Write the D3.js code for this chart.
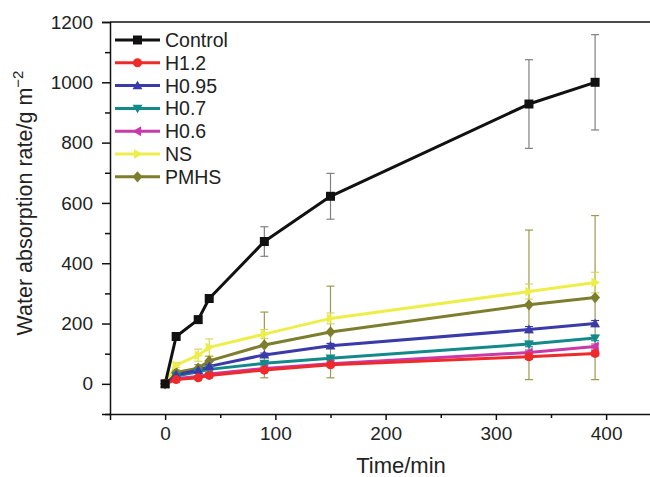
<!DOCTYPE html>
<html><head><meta charset="utf-8">
<script src="https://cdn.jsdelivr.net/npm/d3@7"></script>
<style>body{margin:0;background:#fff}svg{display:block;font-family:Arial,"Liberation Sans",sans-serif}</style>
</head><body><svg id="c" width="650" height="477"></svg>
<script>
const times = [0, 10, 30, 40, 90, 150, 330, 390];
const seriesNames = ["Control", "H1.2", "H0.95", "H0.7", "H0.6", "NS", "PMHS"];
const controlVals = [0, 157, 213, 283, 472, 622, 928, 1000];
const controlErr  = [0, 0, 0, 0, 49, 76, 147, 158];
const h12Vals  = [0, 14, 20, 28, 46, 63, 90, 101];
const h12Err   = [0, 3, 3, 4, 5, 6, 8, 8];
const h095Vals = [0, 30, 45, 58, 96, 126, 180, 200];
const h095Err  = [0, 4, 4, 5, 6, 8, 10, 10];
const h07Vals  = [0, 26, 40, 48, 68, 85, 132, 152];
const h07Err   = [0, 3, 4, 5, 6, 7, 9, 9];
const h06Vals  = [0, 18, 24, 33, 51, 67, 104, 124];
const h06Err   = [0, 3, 3, 4, 5, 6, 8, 8];
const nsVals   = [0, 62, 95, 121, 165, 217, 306, 336];
const nsErr    = [0, 8, 20, 28, 15, 18, 25, 34];
const pmhsVals = [0, 38, 52, 76, 129, 172, 262, 286];
const pmhsErr  = [0, 8, 12, 15, 109, 152, 248, 272];
const colors = ["#111111", "#ee2a2a", "#3a3aa8", "#138a8a", "#c83aa8", "#eeee4a", "#7d7d2e"];
const errColors = ["#808080", "#ee2a2a", "#3a3aa8", "#138a8a", "#c83aa8", "#d8d860", "#9a9a50"];
const symbols = ["square", "circle", "triUp", "triDown", "triLeft", "triRight", "diamond"];
const xTicks = [0, 100, 200, 300, 400];
const yTicks = [0, 200, 400, 600, 800, 1000, 1200];

const allVals = [controlVals, h12Vals, h095Vals, h07Vals, h06Vals, nsVals, pmhsVals];
const allErr = [controlErr, h12Err, h095Err, h07Err, h06Err, nsErr, pmhsErr];

const svg = d3.select("#c");
const x = d3.scaleLinear().domain([-50, 450]).range([110, 661.25]);
const y = d3.scaleLinear().domain([-100, 1200]).range([414, 22]);

function symPath(type, s) {
  const h = s / 2;
  switch (type) {
    case "square": return `M${-h},${-h}h${s}v${s}h${-s}Z`;
    case "circle": return d3.symbol(d3.symbolCircle, Math.PI * h * h)();
    case "triUp": return `M0,${-h * 1.1}L${h * 1.1},${h * 0.8}L${-h * 1.1},${h * 0.8}Z`;
    case "triDown": return `M0,${h * 1.1}L${h * 1.1},${-h * 0.8}L${-h * 1.1},${-h * 0.8}Z`;
    case "triLeft": return `M${-h * 1.1},0L${h * 0.8},${-h * 1.1}L${h * 0.8},${h * 1.1}Z`;
    case "triRight": return `M${h * 1.1},0L${-h * 0.8},${-h * 1.1}L${-h * 0.8},${h * 1.1}Z`;
    case "diamond": return `M0,${-h * 1.25}L${h * 1.1},0L0,${h * 1.25}L${-h * 1.1},0Z`;
  }
}

// frame
svg.append("line").attr("x1", 110).attr("x2", 650).attr("y1", 22).attr("y2", 22).attr("stroke", "#111").attr("stroke-width", 1.5);

// axes
const xAxis = d3.axisBottom(x).tickValues(xTicks).tickSize(6).tickPadding(7).tickFormat(d3.format("d"));
const gx = svg.append("g").attr("transform", "translate(0,414)").call(xAxis);
gx.select(".domain").attr("stroke", "#111").attr("stroke-width", 1.5);
gx.selectAll(".tick line").attr("stroke", "#111").attr("stroke-width", 1.5);
gx.selectAll("text").attr("font-size", 19).attr("fill", "#222").attr("font-family", "Arial, Liberation Sans, sans-serif");
const gxm = svg.append("g").attr("transform", "translate(0,414)").call(d3.axisBottom(x).tickValues([50, 150, 250, 350, 450]).tickSize(4).tickFormat(""));
gxm.select(".domain").remove();
gxm.selectAll(".tick line").attr("stroke", "#111").attr("stroke-width", 1.5);

const yAxis = d3.axisLeft(y).tickValues(yTicks).tickSize(8).tickPadding(9).tickFormat(d3.format("d"));
const gy = svg.append("g").attr("transform", "translate(110,0)").call(yAxis);
gy.select(".domain").attr("stroke", "#111").attr("stroke-width", 1.5);
gy.selectAll(".tick line").attr("stroke", "#111").attr("stroke-width", 1.5);
gy.selectAll("text").attr("font-size", 19).attr("fill", "#222").attr("font-family", "Arial, Liberation Sans, sans-serif");
const gym = svg.append("g").attr("transform", "translate(110,0)").call(d3.axisLeft(y).tickValues([-100, 100, 300, 500, 700, 900, 1100]).tickSize(5).tickFormat(""));
gym.select(".domain").remove();
gym.selectAll(".tick line").attr("stroke", "#111").attr("stroke-width", 1.5);

// axis titles
svg.append("text").attr("x", 401).attr("y", 473).attr("text-anchor", "middle").attr("font-size", 22).attr("fill", "#222").text("Time/min");
const yt = svg.append("text").attr("transform", "translate(32,203) rotate(-90)").attr("text-anchor", "middle").attr("font-size", 21.5).attr("fill", "#222");
yt.append("tspan").text("Water absorption rate/g m");
yt.append("tspan").attr("font-size", 15).attr("dy", -9).text("\u22122");

// series (draw back to front so Control is on top)
const line = d3.line().x(d => x(d[0])).y(d => y(d[1]));
const order = [6, 5, 4, 3, 2, 1, 0];
order.forEach(i => {
  const pts = times.map((t, j) => [t, allVals[i][j], allErr[i][j]]);
  const g = svg.append("g");
  g.append("path").datum(pts).attr("d", line).attr("fill", "none").attr("stroke", colors[i]).attr("stroke-width", 3).attr("stroke-linejoin", "round");
});
order.forEach(i => {
  const pts = times.map((t, j) => [t, allVals[i][j], allErr[i][j]]).filter(d => d[2] > 0);
  const g = svg.append("g").attr("stroke", errColors[i]).attr("stroke-width", 1.2);
  pts.forEach(d => {
    const cx = x(d[0]);
    g.append("line").attr("x1", cx).attr("x2", cx).attr("y1", y(d[1] + d[2])).attr("y2", y(d[1] - d[2]));
    g.append("line").attr("x1", cx - 4).attr("x2", cx + 4).attr("y1", y(d[1] + d[2])).attr("y2", y(d[1] + d[2]));
    g.append("line").attr("x1", cx - 4).attr("x2", cx + 4).attr("y1", y(d[1] - d[2])).attr("y2", y(d[1] - d[2]));
  });
});
order.forEach(i => {
  const pts = times.map((t, j) => [t, allVals[i][j]]);
  svg.append("g").selectAll("path").data(pts).join("path")
    .attr("transform", d => `translate(${x(d[0])},${y(d[1])})`)
    .attr("d", symPath(symbols[i], 9)).attr("fill", colors[i]);
});

// legend
const leg = svg.append("g");
seriesNames.forEach((n, i) => {
  const ly = 40 + i * 22.8;
  leg.append("line").attr("x1", 115).attr("x2", 160).attr("y1", ly).attr("y2", ly).attr("stroke", colors[i]).attr("stroke-width", 3);
  leg.append("path").attr("transform", `translate(137.5,${ly})`).attr("d", symPath(symbols[i], 9)).attr("fill", colors[i]);
  leg.append("text").attr("x", 165).attr("y", ly).attr("dy", "0.36em").attr("font-size", 19.5).attr("fill", "#222").text(n);
});
</script></body></html>
